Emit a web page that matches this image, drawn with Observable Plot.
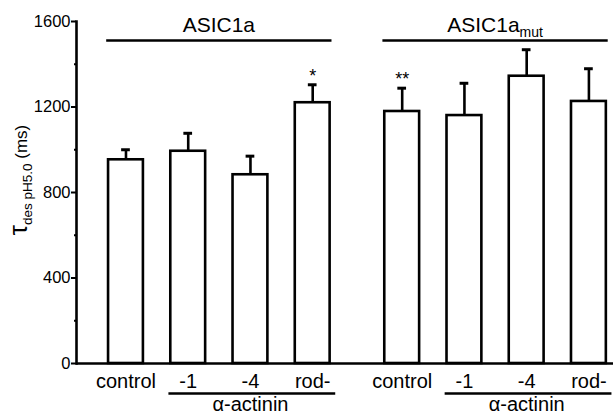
<!DOCTYPE html>
<html><head><meta charset="utf-8">
<script src="https://cdn.jsdelivr.net/npm/d3@7"></script>
<script src="https://cdn.jsdelivr.net/npm/@observablehq/plot@0.6"></script>
<style>
body{margin:0;background:#fff}
svg{font-family:"Liberation Sans",Arial,Helvetica,sans-serif}
</style>
</head><body><div id="chart"></div>
<script>
// ---- data ----
const groups = ["ASIC1a", "ASIC1a_mut"];
const conditions = ["control", "-1", "-4", "rod-"];
const barGroup = ["ASIC1a", "ASIC1a", "ASIC1a", "ASIC1a", "ASIC1a_mut", "ASIC1a_mut", "ASIC1a_mut", "ASIC1a_mut"];
const barCondition = ["control", "-1", "-4", "rod-", "control", "-1", "-4", "rod-"];
const means = [953, 993, 883, 1220, 1179, 1160, 1344, 1226];
const sems = [47, 84, 87, 84, 109, 151, 124, 153];
const significance = ["", "", "", "*", "**", "", "", ""];
const yTicks = [0, 400, 800, 1200, 1600];
const yMinorTicks = [200, 600, 1000, 1400];
const subgroupLabel = "α-actinin";
const subgroupMembers = ["-1", "-4", "rod-"];

// ---- layout/style constants ----
const groupGap = 0.438;
const halfBar = 0.28;
const capHalf = 0.07;
const lw = 2.6;

const posOf = (g, c) => groups.indexOf(g) * (conditions.length + groupGap) + conditions.indexOf(c);
const data = means.map((m, i) => ({
  group: barGroup[i], cond: barCondition[i], mean: m, sem: sems[i],
  mark: significance[i], pos: posOf(barGroup[i], barCondition[i])
}));
const yMax = yTicks[yTicks.length - 1];
const headers = groups.map(g => ({
  group: g,
  x1: posOf(g, conditions[0]) - halfBar - 0.03,
  x2: posOf(g, conditions[conditions.length - 1]) + halfBar + 0.03
}));
const subs = groups.map(g => {
  const a = posOf(g, subgroupMembers[0]) - halfBar - 0.03;
  const b = posOf(g, subgroupMembers[subgroupMembers.length - 1]) + halfBar + 0.09;
  return {group: g, x1: a, x2: b, mid: (posOf(g, subgroupMembers[0]) + posOf(g, subgroupMembers[subgroupMembers.length - 1])) / 2};
});
const lastPos = d3.max(data, d => d.pos);

const chart = Plot.plot({
  width: 613,
  height: 414,
  marginLeft: 76,
  marginRight: 0,
  marginTop: 21,
  marginBottom: 51,
  x: {type: "linear", domain: [-0.795, lastPos + 0.395], axis: null},
  y: {domain: [0, yMax], label: null, axis: null},
  marks: [
    Plot.rectY(data, {x1: d => d.pos - halfBar, x2: d => d.pos + halfBar, y1: 0, y2: "mean",
      fill: "white", stroke: "black", strokeWidth: lw}),
    Plot.ruleX(data, {x: "pos", y1: "mean", y2: d => d.mean + d.sem, stroke: "black", strokeWidth: lw}),
    Plot.ruleY(data, {y: d => d.mean + d.sem, x1: d => d.pos - capHalf, x2: d => d.pos + capHalf,
      stroke: "black", strokeWidth: 3}),
    Plot.ruleY([0], {stroke: "black", strokeWidth: lw}),
    Plot.frame({anchor: "left", stroke: "black", strokeWidth: lw}),
    Plot.axisY({ticks: yTicks, tickSize: 5, tickPadding: 1, fontSize: 16.5, strokeWidth: 2, label: null,
      tickFormat: d => String(d), fill: "black"}),
    Plot.axisY({ticks: yMinorTicks, tickSize: 2, text: null, strokeWidth: 2, label: null}),
    Plot.text(data, {x: "pos", text: "cond", frameAnchor: "bottom", lineAnchor: "middle", dy: 18, fontSize: 20, fill: "black"}),
    Plot.text(data, {x: "pos", y: d => d.mean + d.sem, text: "mark", dy: -9, fontSize: 18, fill: "black"}),
    Plot.ruleY(subs, {y: () => 0, x1: "x1", x2: "x2", dy: 30, stroke: "black", strokeWidth: lw}),
    Plot.text(subs, {x: "mid", text: () => subgroupLabel, frameAnchor: "bottom", lineAnchor: "middle", dy: 41, fontSize: 20, fill: "black"}),
    Plot.ruleY(headers, {y: () => yMax, x1: "x1", x2: "x2", dy: 19, stroke: "black", strokeWidth: lw})
  ]
});
document.getElementById("chart").appendChild(chart);

// group headers with subscript, and y label with subscript
const svg = d3.select(chart);
const xs = chart.scale("x"), ys = chart.scale("y");
headers.forEach(h => {
  const [main, sub] = h.group.split("_");
  const t = svg.append("text")
    .attr("x", (xs.apply(h.x1) + xs.apply(h.x2)) / 2)
    .attr("y", ys.apply(yMax) + 11)
    .attr("text-anchor", "middle")
    .attr("font-size", 21)
    .attr("fill", "black");
  t.append("tspan").text(main);
  if (sub) t.append("tspan").attr("font-size", 14).attr("dy", 5).text(sub);
});
const yl = svg.append("text")
  .attr("transform", "translate(27,180) rotate(-90)")
  .attr("text-anchor", "middle")
  .attr("fill", "black");
yl.append("tspan").attr("font-size", 26).text("τ");
yl.append("tspan").attr("font-size", 13.5).attr("dy", 5).text("des pH5.0");
yl.append("tspan").attr("font-size", 17).attr("dy", -5).text(" (ms)");
</script>
</body></html>
